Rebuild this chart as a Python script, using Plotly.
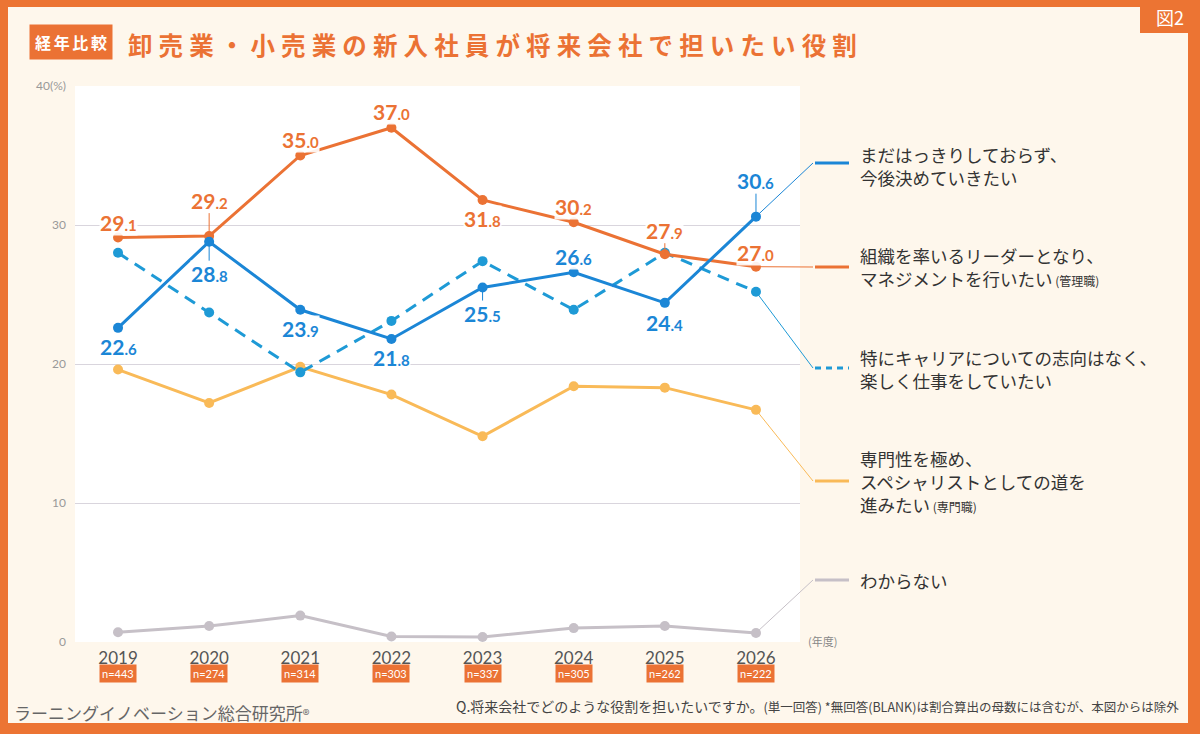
import plotly.graph_objects as go

# ---------------- data ----------------
years = ["2019", "2020", "2021", "2022", "2023", "2024", "2025", "2026"]
n_sizes = ["443", "274", "314", "303", "337", "305", "262", "222"]
undecided = [22.6, 28.8, 23.9, 21.8, 25.5, 26.6, 24.4, 30.6]
management = [29.1, 29.2, 35.0, 37.0, 31.8, 30.2, 27.9, 27.0]
no_ambition = [28.0, 23.7, 19.4, 23.1, 27.4, 23.9, 28.0, 25.2]
specialist = [19.6, 17.2, 19.8, 17.8, 14.8, 18.4, 18.3, 16.7]
unknown = [0.7, 1.15, 1.9, 0.4, 0.36, 1.0, 1.15, 0.65]

legend_texts = [
    "まだはっきりしておらず、<br>今後決めていきたい",
    "組織を率いるリーダーとなり、<br>マネジメントを行いたい<span style='font-size:12px'> (管理職)</span>",
    "特にキャリアについての志向はなく、<br>楽しく仕事をしていたい",
    "専門性を極め、<br>スペシャリストとしての道を<br>進みたい<span style='font-size:12px'> (専門職)</span>",
    "わからない",
]
title_text = "卸売業・小売業の新入社員が将来会社で担いたい役割"
badge_text = "経年比較"

# ---------------- styles ----------------
ORANGE = "#EB7234"
BLUE = "#1B86D6"
LBLUE = "#1E9AD6"
YELLOW = "#F9BA58"
GRAY = "#C6C0C7"
FRAME = "#EC7433"
CREAM = "#FEF7EC"
TXT = "#333333"
JP = "Noto Sans CJK JP"
NUM = "Lato"

W, H = 1200, 734
L, R, T, B = 75, 800, 86, 642
x_min, x_max = -0.472, 7.483
y_min, y_max = 0, 40


def px_x(px):
    return (px - L) / (R - L)


def px_y(py):
    return (B - py) / (B - T)


def dx_paper(i):
    return (i - x_min) / (x_max - x_min)


def dy_paper(v):
    return (v - y_min) / (y_max - y_min)


def paper_text(xpx, ypx, text, font, xanchor="center", yanchor="middle", **kw):
    d = dict(x=px_x(xpx), y=px_y(ypx), xref="paper", yref="paper", text=text,
             showarrow=False, xanchor=xanchor, yanchor=yanchor, font=font)
    d.update(kw)
    return d


idx = list(range(len(years)))
fig = go.Figure()

series = [
    (specialist, YELLOW, "solid"),
    (unknown, GRAY, "solid"),
    (no_ambition, LBLUE, "12px,8px"),
    (management, ORANGE, "solid"),
    (undecided, BLUE, "solid"),
]
for vals, col, dash in series:
    fig.add_trace(go.Scatter(
        x=idx, y=vals, mode="lines+markers",
        line=dict(color=col, width=3, dash=dash),
        marker=dict(color=col, size=10),
        cliponaxis=False, showlegend=False, hoverinfo="skip",
    ))

annotations = []
shapes = []


def fmt(v):
    s = f"{v:.1f}"
    a, b = s.split(".")
    return f"{a}<span style='font-size:15px'>.{b}</span>"


# label offsets (px, negative = above) and leader flags
mgmt_offsets = [-15, -36, -16, -16, 19, -16, -24, -14]
mgmt_leader = [False, True, False, False, False, False, True, False]
und_offsets = [19, 32, 19, 19, 26, -16, 20, -36]
und_leader = [False, True, False, False, True, False, False, True]

for vals, col, offs, leads in [
    (management, ORANGE, mgmt_offsets, mgmt_leader),
    (undecided, BLUE, und_offsets, und_leader),
]:
    for i, v in enumerate(vals):
        base = dict(
            x=i, y=v, xref="x", yref="y", text=fmt(v),
            font=dict(family=NUM, size=21, color=col, weight=700),
            bgcolor="rgba(255,255,255,0.9)", borderpad=0,
        )
        if leads[i]:
            base.update(showarrow=True, ax=0, ay=offs[i], axref="pixel", ayref="pixel",
                        arrowhead=0, arrowwidth=1, arrowcolor=col, standoff=0)
        else:
            base.update(showarrow=False, yshift=-offs[i], xanchor="center", yanchor="middle")
        annotations.append(base)

# connectors + legend entries
legend_y_px = [163, 267, 368, 481, 580]
legend_text_px = [165.5, 266.5, 368.5, 481.5, 580]
legend_vals = [undecided[-1], management[-1], no_ambition[-1], specialist[-1], unknown[-1]]
legend_cols = [BLUE, ORANGE, LBLUE, YELLOW, GRAY]
for k in range(5):
    x0 = dx_paper(len(years) - 1)
    y0 = dy_paper(legend_vals[k])
    shapes.append(dict(type="line", xref="paper", yref="paper",
                       x0=x0, y0=y0, x1=px_x(813), y1=px_y(legend_y_px[k]),
                       line=dict(color=legend_cols[k], width=1), layer="below"))
    shapes.append(dict(type="line", xref="paper", yref="paper",
                       x0=px_x(815), y0=px_y(legend_y_px[k]),
                       x1=px_x(849), y1=px_y(legend_y_px[k]),
                       line=dict(color=legend_cols[k], width=3,
                                 dash="6px,5px" if k == 2 else "solid")))
    annotations.append(paper_text(858, legend_text_px[k], legend_texts[k],
                                  dict(family=JP, size=17.5, color=TXT),
                                  xanchor="left", align="left"))

# n= badges
for i, n in enumerate(n_sizes):
    annotations.append(dict(
        x=i, y=px_y(673), xref="x", yref="paper", text=f"n={n}",
        showarrow=False, bgcolor=ORANGE, borderpad=2,
        xanchor="center", yanchor="middle",
        font=dict(family=NUM, size=11, color="white"),
    ))

# (年度)
annotations.append(paper_text(806, 641, "(年度)",
                              dict(family=JP, size=11, color="#888888"), xanchor="left"))

# title badge & title
annotations.append(paper_text(70.5, 42, "\u2006".join(list(badge_text)),
                              dict(family=JP, size=16, color="white", weight=700),
                              bgcolor=ORANGE, borderpad=5))
spaced_title = "\u2005".join(list(title_text))
annotations.append(paper_text(126, 44, spaced_title,
                              dict(family=JP, size=24.5, color=ORANGE, weight=700),
                              xanchor="left"))

# footers
annotations.append(paper_text(12, 712,
                              "ラーニングイノベーション総合研究所<span style='font-size:14px'>®</span>",
                              dict(family=JP, size=17, color="#666666"), xanchor="left"))
annotations.append(paper_text(1181, 706,
                              "Q.将来会社でどのような役割を担いたいですか。"
                              "<span style='font-size:12.5px'>(単一回答) *無回答(BLANK)は割合算出の母数には含むが、本図からは除外</span>",
                              dict(family=JP, size=14, color="#444444"), xanchor="right"))

# orange frame
frame = [(0, 0, 8, H), (0, 0, W, 7), (1188, 0, W, H), (0, 723, W, H), (1140, 0, W, 33)]
for (a, b, c, d) in frame:
    shapes.append(dict(type="rect", xref="paper", yref="paper",
                       x0=px_x(a), x1=px_x(c), y0=px_y(b), y1=px_y(d),
                       fillcolor=FRAME, line=dict(width=0), layer="above"))

annotations.append(paper_text(1170, 17, "図2", dict(family=JP, size=18, color="white")))

fig.update_layout(
    width=W, height=H, autosize=False,
    margin=dict(l=L, r=W - R, t=T, b=H - B),
    paper_bgcolor=CREAM, plot_bgcolor="white",
    showlegend=False,
    annotations=annotations, shapes=shapes,
    xaxis=dict(range=[x_min, x_max], tickvals=idx, ticktext=years,
               showgrid=False, zeroline=False, showline=False,
               tickfont=dict(family=NUM, size=17, color="#555555"),
               ticks="", ticklabelstandoff=4, fixedrange=True),
    yaxis=dict(range=[y_min, y_max], tickvals=[0, 10, 20, 30, 40],
               ticktext=["0", "10", "20", "30", "40(%)"],
               showgrid=True, gridcolor="#D9D5DD", gridwidth=1,
               zeroline=False, showline=False,
               tickfont=dict(family=NUM, size=12, color="#999999"),
               ticks="", ticklabelstandoff=8, fixedrange=True),
)

fig.write_html("out.html")
